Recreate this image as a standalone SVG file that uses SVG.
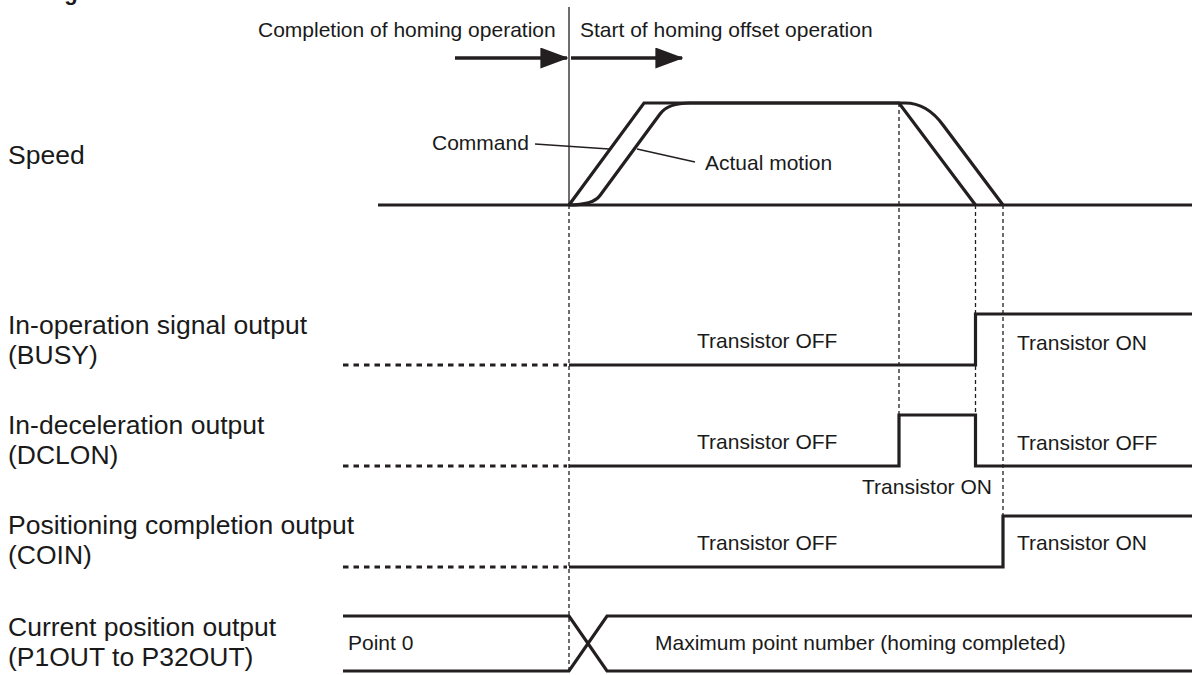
<svg xmlns="http://www.w3.org/2000/svg" width="1192" height="675" viewBox="0 0 1192 675">
<defs>
<style>
.lbl{font-family:"Liberation Sans",Arial,sans-serif;font-size:26.5px;fill:#1a1a1a}
.sm{font-family:"Liberation Sans",Arial,sans-serif;font-size:21px;fill:#1a1a1a}
.ttl{font-family:"Liberation Sans",Arial,sans-serif;font-size:22px;font-weight:bold;fill:#1a1a1a}
.sig{fill:none;stroke:#231f20;stroke-width:3.2;stroke-linejoin:miter}
.dot{fill:none;stroke:#231f20;stroke-width:3.2;stroke-dasharray:5.5 5}
.guide{fill:none;stroke:#231f20;stroke-width:1.3;stroke-dasharray:4 3}
.thin{fill:none;stroke:#231f20;stroke-width:1.3}
.arr{fill:none;stroke:#231f20;stroke-width:3.5}
</style>
<marker id="ah" markerWidth="8" markerHeight="6" refX="7.6" refY="3" orient="auto" markerUnits="strokeWidth" viewBox="0 0 8 6">
<path d="M0,0 L8,3 L0,6 Z" fill="#231f20"/>
</marker>
</defs>
<rect width="1192" height="675" fill="#ffffff"/>
<text class="ttl" x="6" y="-0.5">Timing chart</text>

<g id="header">
<text class="sm" x="258" y="37">Completion of homing operation</text>
<text class="sm" x="580" y="37">Start of homing offset operation</text>
</g>

<g id="connectors">
<line class="thin" x1="569" y1="7" x2="569" y2="205"/>
<line class="arr" x1="455" y1="58" x2="567" y2="58" marker-end="url(#ah)"/>
<line class="arr" x1="571" y1="58" x2="682" y2="58" marker-end="url(#ah)"/>
<line class="guide" x1="569" y1="205" x2="569" y2="672"/>
<line class="guide" x1="899" y1="103" x2="899" y2="415"/>
<line class="guide" x1="975.5" y1="205" x2="975.5" y2="466"/>
<line class="guide" x1="1003" y1="205" x2="1003" y2="516"/>
<line class="thin" x1="535" y1="144" x2="609" y2="149"/>
<line class="thin" x1="637" y1="149" x2="695" y2="162"/>
</g>

<g id="speed">
<text class="lbl" x="8" y="164">Speed</text>
<line class="sig" x1="378" y1="205" x2="1192" y2="205"/>
<path class="sig" d="M569,205 L644,103 L899,103 L975.5,205"/>
<path class="sig" d="M569,205 Q593,205 600,195.5 L660,114 Q668,103 690,103 L905,103 Q927,103 943,125 L1003,205"/>
<text class="sm" x="432" y="150">Command</text>
<text class="sm" x="705" y="170">Actual motion</text>
</g>

<g id="busy">
<text class="lbl" x="8" y="334">In-operation signal output</text>
<text class="lbl" x="8" y="364">(BUSY)</text>
<line class="dot" x1="343" y1="365" x2="567" y2="365"/>
<path class="sig" d="M569,365 L975.5,365 L975.5,314 L1192,314"/>
<text class="sm" x="697" y="348">Transistor OFF</text>
<text class="sm" x="1017" y="350">Transistor ON</text>
</g>

<g id="dclon">
<text class="lbl" x="8" y="434">In-deceleration output</text>
<text class="lbl" x="8" y="464">(DCLON)</text>
<line class="dot" x1="343" y1="466" x2="567" y2="466"/>
<path class="sig" d="M569,466 L899,466 L899,415 L975.5,415 L975.5,466 L1192,466"/>
<text class="sm" x="697" y="449">Transistor OFF</text>
<text class="sm" x="1017" y="450">Transistor OFF</text>
<text class="sm" x="862" y="494">Transistor ON</text>
</g>

<g id="coin">
<text class="lbl" x="8" y="534">Positioning completion output</text>
<text class="lbl" x="8" y="564">(COIN)</text>
<line class="dot" x1="343" y1="567" x2="567" y2="567"/>
<path class="sig" d="M569,567 L1003,567 L1003,516 L1192,516"/>
<text class="sm" x="697" y="550">Transistor OFF</text>
<text class="sm" x="1017" y="550">Transistor ON</text>
</g>

<g id="position">
<text class="lbl" x="8" y="636">Current position output</text>
<text class="lbl" x="8" y="666">(P1OUT to P32OUT)</text>
<path class="sig" d="M343,616 L569,616 L607,671 L1192,671"/>
<path class="sig" d="M343,671 L569,671 L607,616 L1192,616"/>
<text class="sm" x="348" y="650">Point 0</text>
<text class="sm" x="655" y="650">Maximum point number (homing completed)</text>
</g>
</svg>
